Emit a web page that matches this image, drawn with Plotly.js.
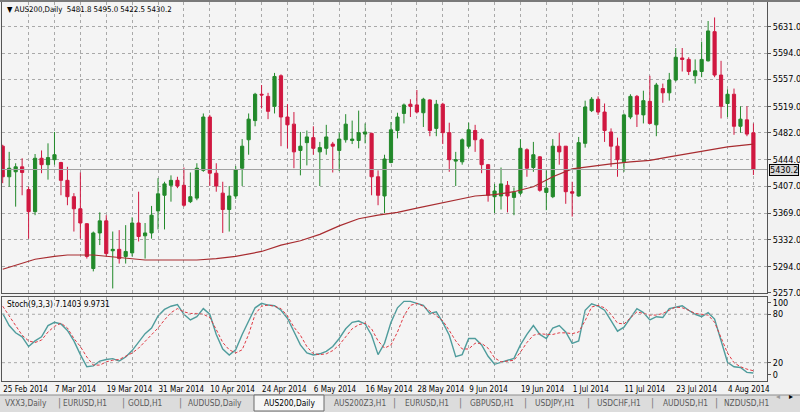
<!DOCTYPE html>
<html><head><meta charset="utf-8">
<script src="https://cdn.plot.ly/plotly-3.0.1.min.js"></script>
<style>html,body{margin:0;padding:0;background:#f2f2f2;}#chart{width:800px;height:412px;}</style>
</head><body><div id="chart"></div>
<script>
// ---------- data ----------
const symbol = "AUS200,Daily";
const barIdx = Array.from({length:117},(_,i)=>i);
const openP = [5463,5420,5427,5434,5402,5371,5446,5437,5444,5440,5415,5392,5375,5354,5291,5341,5358,5316,5318,5308,
5313,5355,5337,5341,5372,5394,5408,5415,5408,5385,5390,5429,5504,5425,5397,5374,5393,5432,5472,5499,
5536,5533,5519,5562,5504,5494,5457,5468,5475,5455,5460,5466,5457,5472,5471,5471,5480,5481,5420,5393,
5440,5485,5509,5522,5521,5510,5528,5488,5522,5482,5442,5441,5463,5485,5472,5437,5392,5393,5408,5391,
5397,5458,5433,5448,5398,5392,5463,5463,5399,5393,5467,5513,5529,5511,5483,5463,5441,5504,5533,5507,
5526,5493,5544,5538,5556,5587,5585,5562,5568,5583,5624,5563,5523,5536,5491,5500,5481.8];
const highP = [5465,5455,5439,5446,5406,5452,5457,5467,5483,5441,5434,5397,5426,5355,5343,5370,5366,5343,5345,5352,
5363,5399,5355,5379,5418,5413,5422,5420,5433,5426,5439,5509,5507,5439,5413,5407,5435,5473,5509,5538,
5549,5538,5566,5564,5522,5511,5483,5485,5491,5469,5493,5469,5482,5508,5499,5513,5495,5482,5429,5451,
5497,5510,5523,5529,5542,5531,5529,5528,5524,5496,5455,5474,5496,5493,5474,5438,5410,5433,5414,5405,
5473,5460,5469,5449,5429,5473,5482,5463,5413,5476,5527,5532,5533,5523,5488,5475,5509,5536,5535,5541,
5562,5552,5551,5566,5601,5601,5588,5585,5610,5639,5644,5583,5543,5544,5519,5519,5495.0];
const lowP = [5411,5406,5378,5394,5333,5366,5425,5416,5437,5394,5380,5343,5333,5305,5287,5324,5308,5263,5298,5298,
5308,5329,5305,5333,5346,5346,5385,5404,5378,5383,5387,5427,5407,5399,5341,5343,5389,5407,5451,5491,
5516,5501,5509,5463,5460,5432,5422,5436,5451,5407,5451,5426,5428,5468,5466,5460,5467,5394,5380,5369,
5439,5474,5495,5504,5509,5490,5477,5477,5466,5427,5407,5437,5460,5455,5425,5385,5369,5374,5370,5366,
5394,5420,5427,5399,5373,5390,5437,5382,5364,5392,5461,5511,5507,5469,5434,5420,5427,5501,5490,5495,
5494,5477,5524,5527,5554,5568,5563,5551,5560,5582,5560,5502,5504,5479,5482,5477,5422.5];
const closeP = [5420,5432,5434,5426,5371,5446,5437,5447,5451,5415,5392,5375,5355,5308,5341,5358,5312,5318,5305,5315,
5355,5336,5341,5366,5396,5410,5415,5407,5380,5392,5432,5504,5425,5407,5374,5393,5430,5463,5501,5536,
5535,5512,5561,5504,5493,5455,5463,5476,5460,5461,5476,5463,5473,5494,5473,5482,5483,5420,5394,5445,
5486,5504,5521,5519,5511,5529,5485,5522,5482,5444,5444,5472,5486,5472,5437,5394,5400,5410,5393,5398,
5460,5432,5451,5401,5404,5463,5455,5399,5397,5468,5518,5529,5511,5485,5463,5444,5507,5533,5508,5527,
5495,5549,5538,5556,5588,5585,5568,5569,5585,5625,5563,5519,5536,5491,5501,5480,5430.2];

// moving average, read at sampled bars
const maIdx = [0,3,5,8,10,14,16,19,22,26,30,33,36,40,43,46,49,52,55,58,61,64,67,70,73,76,79,82,85,88,91,94,97,100,103,106,109,112,116];
const maVal = [5290,5299,5304,5308,5310,5310,5308,5306,5303,5303,5303,5305,5308,5315,5324,5330,5339,5351,5361,5366,5370,5376,5382,5388,5393,5395,5399,5406,5420,5431,5435,5438,5441,5443,5448,5453,5457,5462,5466];

// Stochastic (9,3,3)
const stochK = [81,66,57,52,40,47,52,66,70,68,60,47,30,15,16,22,24,25,22,27,
35,46,56,63,78,86,90,92,80,73,77,87,80,55,37,29.5,36,55,72,88,
93.5,91.4,90.6,85,75,58,42,32,29.5,31,34,40,50,62,70,71.6,68,54,30,44,
70,88,96,96,93.5,91,81,83,70,54,27.4,30,50,50,42,28,18,20.4,23,25.4,
42,55,66,55,50,63,66,58,44,47,85,93,90,85,72,59,64,75,87,82,
73,77,76,87,89,90.6,85,80,77,82,74,46,20.5,15,14,8,7.1403];
const stochD = [90,78,67,54,47,45,48,58,65,69,63,50,40,27,17,17,21,23,24,28,
32,38,46,54,63,73,82,87,83,81,81,80,76,61,45,36,32,36,55,80,
90,91.4,90,87,78,64,54,40,31,30,31,35,42,52,62,67,69,62,47,38,
42,58,78,91,93.5,90,84,78,72,60,47,37,37,44,44,38,26,21,22,23,
33,45,54,56,55,55,57,57,56,58,72,89,91,88,80,69,68,76,83,81,
79,79,81,85,89,88,85,81,80,79,70,50,32,20,15,12,9.9731];

const priceTicks = [5257.0,5294.0,5332.0,5369.0,5407.0,5444.0,5482.0,5519.0,5557.0,5594.0,5631.0];
const stochTickVals = [94.3,80,20,5.5];
const stochTickText = ["100","80","20","0"];
const dateTickIdx = [0,8,16,24,32,40,48,56,64,72,80,88,96,104,112];
const dateTickText = ["25 Feb 2014","7 Mar 2014","19 Mar 2014","31 Mar 2014","10 Apr 2014","24 Apr 2014","6 May 2014","16 May 2014","28 May 2014","9 Jun 2014","19 Jun 2014","1 Jul 2014","11 Jul 2014","23 Jul 2014","4 Aug 2014"];
const tabNames = ["VXX3,Daily","EURUSD,H1","GOLD,H1","AUDUSD,Daily","AUS200,Daily","AUS200Z3,H1","EURUSD,H1","GBPUSD,H1","USDJPY,H1","USDCHF,H1","AUDUSD,H1","NZDUSD,H1"];
const activeTabIndex = 4;

// ---------- layout helpers ----------
const FONT = '"Liberation Sans Narrow","DejaVu Sans Condensed","Arial Narrow","Liberation Sans",sans-serif';
const ML=2, MR=33, MT=2, MB=31, W=800, H=412;
const PW=W-ML-MR, PH=H-MT-MB;
const px = v => (v-ML)/PW;
const py = v => (H-MB-v)/PH;
const GRID = '#a9a9a9';
const GREEN = '#22892a', RED = '#d01840';

const gridIdx = []; for (let i=0;i<=116;i+=4) gridIdx.push(i);
const gridText = gridIdx.map(i => { const j = dateTickIdx.indexOf(i); return j>=0 ? dateTickText[j] : ''; });

const last = openP.length-1;

const traces = [
  {type:'candlestick', x:barIdx, open:openP, high:highP, low:lowP, close:closeP, xaxis:'x', yaxis:'y',
   increasing:{line:{color:GREEN,width:1}, fillcolor:GREEN},
   decreasing:{line:{color:RED,width:1}, fillcolor:RED},
   whiskerwidth:0, hoverinfo:'skip'},
  {type:'scatter', mode:'lines', x:maIdx, y:maVal, xaxis:'x', yaxis:'y', line:{color:'#a82c30',width:1.2}, hoverinfo:'skip'},
  {type:'scatter', mode:'lines', x:barIdx, y:stochK, xaxis:'x2', yaxis:'y2', line:{color:'#4f9c9c',width:1.4}, hoverinfo:'skip'},
  {type:'scatter', mode:'lines', x:barIdx, y:stochD, xaxis:'x2', yaxis:'y2', line:{color:'#e03a44',width:1,dash:'3px,2px'}, hoverinfo:'skip'}
];

const shapes = [
  {type:'rect', xref:'paper', yref:'paper', x0:px(0), x1:px(800), y0:py(2), y1:py(0), fillcolor:'#7a7a7a', line:{width:0}},
  {type:'line', xref:'paper', yref:'y', x0:0, x1:1, y0:closeP[last], y1:closeP[last], line:{color:'#a0a0a0',width:1}},
  {type:'line', xref:'paper', yref:'y2', x0:0, x1:1, y0:80, y1:80, line:{color:GRID,width:1,dash:'3px,3px'}},
  {type:'line', xref:'paper', yref:'y2', x0:0, x1:1, y0:20, y1:20, line:{color:GRID,width:1,dash:'3px,3px'}},
  {type:'rect', xref:'paper', yref:'paper', x0:px(0), x1:px(800), y0:py(412), y1:py(395), fillcolor:'#dcdcdc', line:{width:0}, layer:'below'},
  {type:'line', xref:'paper', yref:'paper', x0:px(0), x1:px(800), y0:py(395), y1:py(395), line:{color:'#8c8c8c',width:1}},
  {type:'rect', xref:'paper', yref:'paper', x0:px(254), x1:px(324), y0:py(411), y1:py(395), fillcolor:'#f6f6f6', line:{color:'#6a6a6a',width:1}}
];

const tabX = [26,85,145,215,289,360,427,492,555,619,685,746];
const sepX = [59,124,180,395,460,525,588,652,716];
const annotations = [
  {xref:'paper', yref:'paper', x:px(5), y:py(9), xanchor:'left', yanchor:'middle', showarrow:false,
   text:'▼ '+symbol+'  '+openP[last].toFixed(1)+' '+highP[last].toFixed(1)+' '+lowP[last].toFixed(1)+' '+closeP[last].toFixed(1),
   font:{family:FONT,size:7.8,color:'#000'}},
  {xref:'paper', yref:'paper', x:px(5), y:py(304), xanchor:'left', yanchor:'middle', showarrow:false,
   text:'Stoch(9,3,3) '+stochK[last].toFixed(4)+' '+stochD[last].toFixed(4),
   font:{family:FONT,size:8.3,color:'#000'}},
  {xref:'paper', yref:'y', x:px(769), y:closeP[last], xanchor:'left', yanchor:'middle', showarrow:false,
   text:closeP[last].toFixed(1), bgcolor:'#d8d8d8', bordercolor:'#000', borderwidth:1, borderpad:0,
   font:{family:FONT,size:9,color:'#000'}}
];
tabNames.forEach((t,i)=>annotations.push({xref:'paper', yref:'paper', x:px(tabX[i]), y:py(403), xanchor:'center', yanchor:'middle', showarrow:false,
  text:t, font:{family:FONT,size:8.3,color: i===activeTabIndex ? '#000' : '#5a5a5a'}}));
sepX.forEach(s=>annotations.push({xref:'paper', yref:'paper', x:px(s), y:py(403), xanchor:'center', yanchor:'middle', showarrow:false,
  text:'|', font:{family:FONT,size:10,color:'#7a7a7a'}}));
annotations.push({xref:'paper', yref:'paper', x:px(782), y:py(403), showarrow:false, text:'◂', font:{family:'DejaVu Sans',size:8,color:'#9a9a9a'}});
annotations.push({xref:'paper', yref:'paper', x:px(795), y:py(403), showarrow:false, text:'▸', font:{family:'DejaVu Sans',size:8,color:'#000'}});

const xr = [-0.11, 118.1];
const layout = {
  width:W, height:H, margin:{l:ML,r:MR,t:MT,b:MB,pad:0},
  paper_bgcolor:'#f2f2f2', plot_bgcolor:'#f4f4f4', showlegend:false,
  font:{family:FONT,size:9,color:'#000'},
  xaxis:{domain:[0,1], anchor:'y', range:xr, tickmode:'array', tickvals:gridIdx, showticklabels:false,
    showgrid:true, gridcolor:GRID, griddash:'3px,3px', gridwidth:1, zeroline:false,
    showline:true, mirror:true, linecolor:'#555', linewidth:1, ticks:'', rangeslider:{visible:false}, fixedrange:true},
  yaxis:{domain:[py(293),1], anchor:'x', range:[5256.6,5665.7], side:'right', tickmode:'array', tickvals:priceTicks,
    ticktext:priceTicks.map(v=>v.toFixed(1)), showgrid:true, gridcolor:GRID, griddash:'3px,3px', zeroline:false,
    showline:true, mirror:true, linecolor:'#555', linewidth:1, ticks:'outside', ticklen:3, tickcolor:'#555',
    tickfont:{family:FONT,size:9,color:'#000'}, fixedrange:true},
  xaxis2:{domain:[0,1], anchor:'y2', range:xr, tickmode:'array', tickvals:gridIdx, ticktext:gridText, tickangle:0,
    ticklabelposition:'outside right', showgrid:true, gridcolor:GRID, griddash:'3px,3px', zeroline:false,
    showline:true, mirror:true, linecolor:'#555', linewidth:1, ticks:'', tickfont:{family:FONT,size:8,color:'#000'}, fixedrange:true},
  yaxis2:{domain:[0,py(297)], anchor:'x2', range:[-2.7,101.4], side:'right', tickmode:'array', tickvals:stochTickVals,
    ticktext:stochTickText, showgrid:false, zeroline:false, showline:true, mirror:true, linecolor:'#555', linewidth:1,
    ticks:'outside', ticklen:3, tickcolor:'#555', tickfont:{family:FONT,size:9,color:'#000'}, fixedrange:true},
  shapes:shapes, annotations:annotations
};
Plotly.newPlot('chart', traces, layout, {staticPlot:true, displayModeBar:false});
</script></body></html>
